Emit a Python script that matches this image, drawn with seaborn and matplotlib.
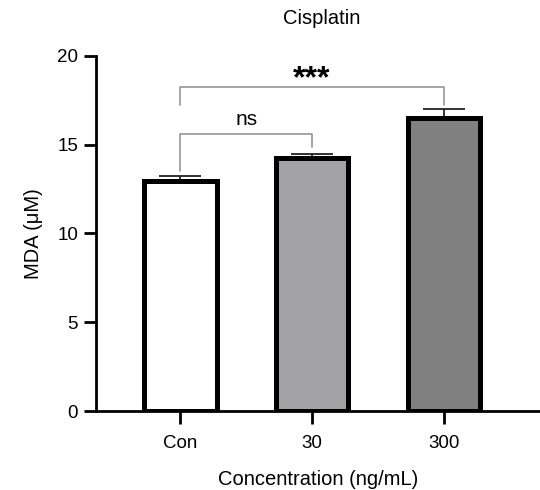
import matplotlib
matplotlib.use("Agg")
import matplotlib.pyplot as plt
import pandas as pd
import numpy as np
import seaborn as sns

# data
groups = ["Con", "30", "300"]
mda_mean = [12.95, 14.25, 16.5]
mda_sem = [0.3, 0.2, 0.5]
bar_colors = ["#ffffff", "#a1a1a6", "#808080"]

# significance brackets: (left group, right group, bracket y, left leg end, right leg end, label)
brackets = [
    (0, 1, 15.6, 13.5, 14.85, "ns"),
    (0, 2, 18.25, 17.25, 17.25, "***"),
]

df = pd.DataFrame({"group": groups, "mda": mda_mean})

sns.set_style("ticks")
plt.rcParams["font.family"] = ["Liberation Sans", "DejaVu Sans"]
plt.rcParams.update({"text.color": "black", "axes.labelcolor": "black",
                     "xtick.color": "black", "ytick.color": "black",
                     "axes.edgecolor": "black"})

fig = plt.figure(figsize=(5.4, 4.9), dpi=100)
ax = fig.add_axes([0.178, 0.161, 0.822, 0.725])

sns.barplot(data=df, x="group", y="mda", order=groups, hue="group",
            palette=bar_colors, legend=False, width=0.55,
            edgecolor="black", linewidth=3.6, ax=ax, zorder=2)

# upper-only error bars
ax.errorbar(np.arange(len(groups)), mda_mean,
            yerr=[np.zeros(len(groups)), mda_sem],
            fmt="none", ecolor="#222222", elinewidth=1.3,
            capsize=15, capthick=1.3, zorder=1)

for i, j, y, l1, l2, txt in brackets:
    ax.plot([i, i, j, j], [l1, y, y, l2], color="#8c8c8c", lw=1.1, zorder=3)
    if txt == "ns":
        ax.text((i + j) / 2, y + 0.3, txt, ha="center", va="bottom", fontsize=15)
    else:
        ax.text((i + j) / 2, y - 0.4, txt, ha="center", va="bottom",
                fontsize=23, fontweight="bold")

ax.set_xlim(-0.64, 2.73)
ax.set_ylim(0, 20)
ax.set_yticks([0, 5, 10, 15, 20])
ax.set_xlabel("Concentration (ng/mL)", fontsize=14.5, labelpad=13)
ax.set_ylabel("MDA (\u03bcM)", fontsize=14.5, labelpad=10)

for s in ["top", "right"]:
    ax.spines[s].set_visible(False)
for s in ["left", "bottom"]:
    ax.spines[s].set_linewidth(2)
ax.tick_params(axis="both", width=2, length=9, labelsize=13.5, pad=4)
ax.tick_params(axis="x", pad=8)

fig.text(0.596, 0.963, "Cisplatin", ha="center", va="center", fontsize=14.5)

fig.savefig("out.png", dpi=100)
